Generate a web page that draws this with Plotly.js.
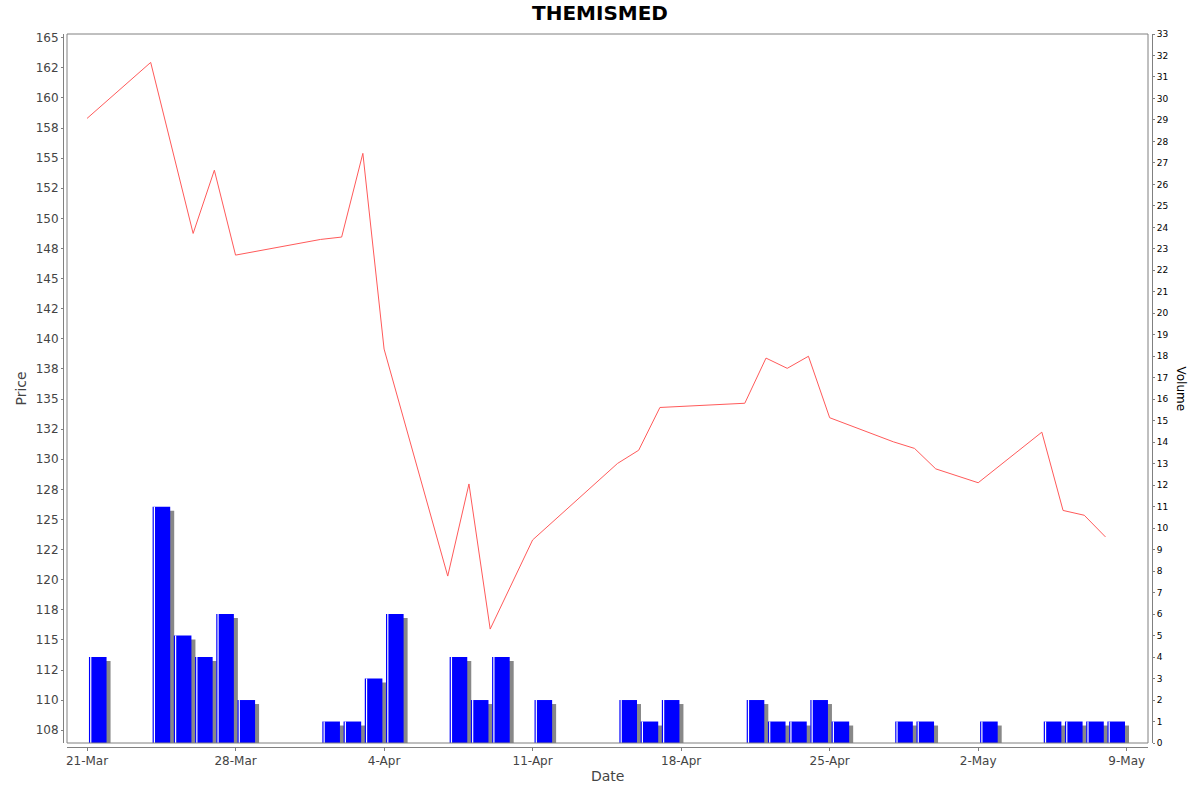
<!DOCTYPE html>
<html>
<head>
<meta charset="utf-8">
<script src="https://cdn.plot.ly/plotly-3.0.1.min.js"></script>
<style>
  html, body { margin: 0; padding: 0; background: #fff; }
  #chart { width: 1200px; height: 792px; }
</style>
</head>
<body>
<div id="chart"></div>
<script>
'use strict';

// closing price per trading day
var priceDates = ['2025-03-21', '2025-03-24', '2025-03-26', '2025-03-27', '2025-03-28',
    '2025-04-01', '2025-04-02', '2025-04-03', '2025-04-04', '2025-04-07', '2025-04-08',
    '2025-04-09', '2025-04-11', '2025-04-15', '2025-04-16', '2025-04-17', '2025-04-21',
    '2025-04-22', '2025-04-23', '2025-04-24', '2025-04-25', '2025-04-28', '2025-04-29',
    '2025-04-30', '2025-05-02', '2025-05-05', '2025-05-06', '2025-05-07', '2025-05-08'];
var prices = [158.3, 162.95, 148.75, 154.0, 146.95,
    148.25, 148.45, 155.4, 139.15, 120.3, 127.95,
    115.9, 123.3, 129.65, 130.75, 134.3, 134.65,
    138.4, 137.55, 138.55, 133.45, 131.45, 130.9,
    129.2, 128.05, 132.25, 125.75, 125.35, 123.55];

// traded volume
var volumeDates = ['2025-03-21', '2025-03-24', '2025-03-25', '2025-03-26', '2025-03-27',
    '2025-03-28', '2025-04-01', '2025-04-02', '2025-04-03', '2025-04-04', '2025-04-07',
    '2025-04-08', '2025-04-09', '2025-04-11', '2025-04-15', '2025-04-16', '2025-04-17',
    '2025-04-21', '2025-04-22', '2025-04-23', '2025-04-24', '2025-04-25', '2025-04-28',
    '2025-04-29', '2025-05-02', '2025-05-05', '2025-05-06', '2025-05-07', '2025-05-08'];
var volumes = [4, 11, 5, 4, 6,
    2, 1, 1, 3, 6, 4,
    2, 4, 2, 2, 1, 2,
    2, 1, 1, 2, 1, 1,
    1, 1, 1, 1, 1, 1];

// price axis ticks every 2.5, labels rounded like the original
var priceTickVals = [165, 162.5, 160, 157.5, 155, 152.5, 150, 147.5, 145, 142.5, 140, 137.5,
    135, 132.5, 130, 127.5, 125, 122.5, 120, 117.5, 115, 112.5, 110, 107.5];
var priceTickText = ['165', '162', '160', '158', '155', '152', '150', '148', '145', '142', '140', '138',
    '135', '132', '130', '128', '125', '122', '120', '118', '115', '112', '110', '108'];

var DAY = 86400000;
var pxPerDay = 21.22;
var volPerPx = 33 / 709;
var shadowPx = 4;
var barOffset = 0.09 * DAY;
var barWidth = 0.83 * DAY;

var grey = '#808080';
var font = 'DejaVu Sans';

var shadow = {
    x: volumeDates,
    y: volumes.map(function (v) { return v - shadowPx * volPerPx; }),
    type: 'bar',
    yaxis: 'y2',
    offset: barOffset + shadowPx / pxPerDay * DAY,
    width: barWidth,
    marker: {color: '#888888', line: {width: 0}},
    hoverinfo: 'skip'
};

var bars = {
    x: volumeDates,
    y: volumes,
    type: 'bar',
    yaxis: 'y2',
    offset: barOffset,
    width: barWidth,
    marker: {color: '#0000ff', line: {width: 0}},
    hoverinfo: 'skip'
};

// thin highlight near the left edge of each bar
var highlight = {
    x: volumeDates,
    y: volumes,
    type: 'bar',
    yaxis: 'y2',
    offset: barOffset + 1.2 / pxPerDay * DAY,
    width: 1.2 / pxPerDay * DAY,
    marker: {color: '#ffffff', line: {width: 0}},
    hoverinfo: 'skip'
};

var priceLine = {
    x: priceDates,
    y: prices,
    type: 'scatter',
    mode: 'lines',
    line: {color: '#ff5a5a', width: 1},
    hoverinfo: 'skip'
};

var layout = {
    width: 1200,
    height: 792,
    paper_bgcolor: '#ffffff',
    plot_bgcolor: '#ffffff',
    showlegend: false,
    barmode: 'overlay',
    margin: {l: 63, r: 48, t: 34, b: 45, pad: 0},
    font: {family: font, color: '#444444'},
    title: {
        text: '<b>THEMISMED</b>',
        font: {family: font, size: 20, color: '#000000'},
        xref: 'container', x: 0.5, xanchor: 'center',
        yref: 'container', y: 1 - 13 / 792, yanchor: 'middle'
    },
    xaxis: {
        domain: [4 / 1089, 1 - 4 / 1089],
        anchor: 'free',
        position: 0,
        type: 'date',
        range: ['2025-03-20 01:20', '2025-05-10 00:05'],
        tick0: '2025-03-21',
        dtick: 7 * DAY,
        tickformat: '%-d-%b',
        ticks: 'outside',
        ticklen: 3,
        tickcolor: grey,
        showline: true,
        linecolor: grey,
        linewidth: 1,
        showgrid: false,
        zeroline: false,
        tickfont: {family: font, size: 12, color: '#444444'}
    },
    yaxis: {
        domain: [4 / 713, 1],
        anchor: 'free',
        position: 0,
        range: [106.44, 165.31],
        tickmode: 'array',
        tickvals: priceTickVals,
        ticktext: priceTickText,
        ticks: 'outside',
        ticklen: 2,
        tickcolor: grey,
        showline: true,
        linecolor: grey,
        linewidth: 1,
        showgrid: false,
        zeroline: false,
        tickfont: {family: font, size: 12, color: '#444444'}
    },
    yaxis2: {
        overlaying: 'y',
        side: 'right',
        anchor: 'free',
        position: 1,
        range: [0, 33],
        dtick: 1,
        tick0: 0,
        ticks: 'outside',
        ticklen: 2,
        tickcolor: grey,
        showline: true,
        linecolor: grey,
        linewidth: 1,
        showgrid: false,
        zeroline: false,
        tickfont: {family: font, size: 9, color: '#000000'}
    },
    shapes: [{
        type: 'rect',
        xref: 'x domain', yref: 'y domain',
        x0: 0, x1: 1, y0: 0, y1: 1,
        line: {color: grey, width: 1},
        fillcolor: 'rgba(0,0,0,0)',
        layer: 'above'
    }],
    annotations: [{
        text: 'Price',
        xref: 'paper', x: 0, xshift: -43, xanchor: 'center',
        yref: 'y domain', y: 0.5, yanchor: 'middle',
        textangle: -90,
        showarrow: false,
        font: {family: font, size: 14, color: '#444444'}
    }, {
        text: 'Volume',
        xref: 'paper', x: 1, xshift: 29, xanchor: 'center',
        yref: 'y domain', y: 0.5, yanchor: 'middle',
        textangle: 90,
        showarrow: false,
        font: {family: font, size: 12, color: '#000000'}
    }, {
        text: 'Date',
        xref: 'x domain', x: 0.5, xanchor: 'center',
        yref: 'paper', y: 0, yshift: -29, yanchor: 'middle',
        showarrow: false,
        font: {family: font, size: 14, color: '#444444'}
    }]
};

Plotly.newPlot('chart', [shadow, bars, highlight, priceLine], layout, {staticPlot: true, displayModeBar: false});
</script>
</body>
</html>
